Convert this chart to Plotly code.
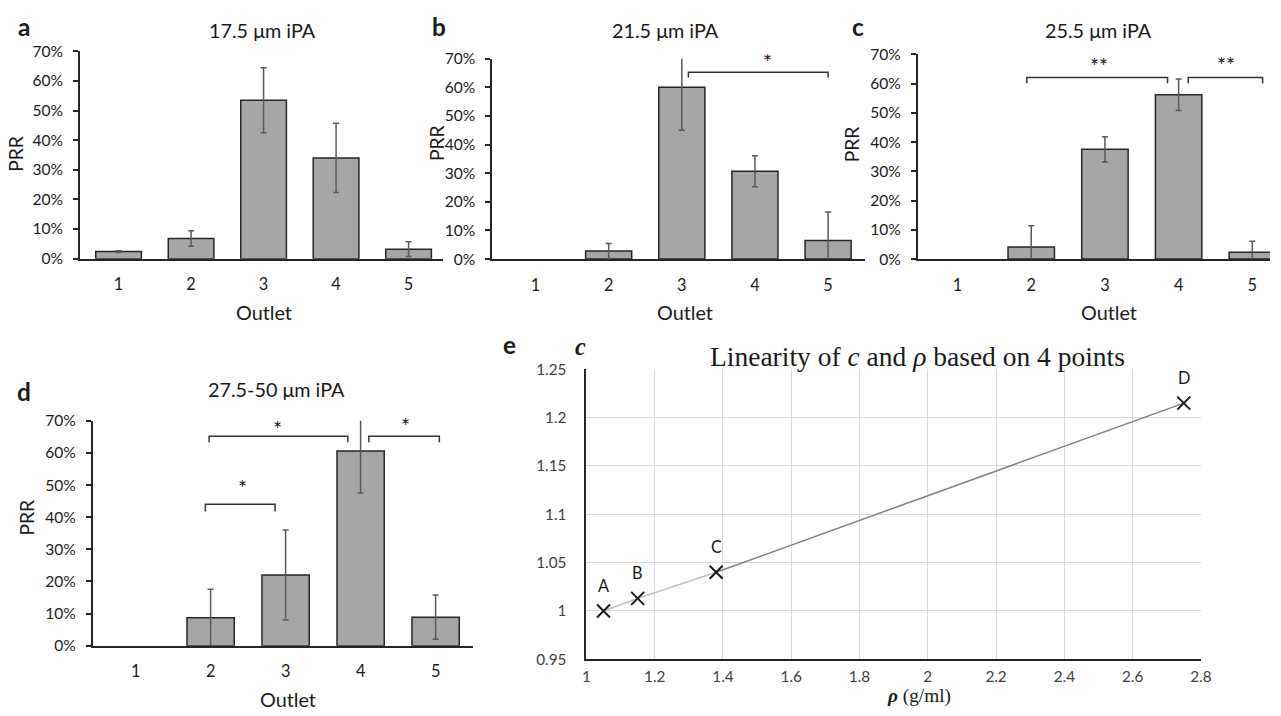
import plotly.graph_objects as go

# ---- data -------------------------------------------------------------
outlets = [1, 2, 3, 4, 5]

prr_a = [2.4, 6.8, 53.5, 34.0, 3.2]
err_a = [0.3, 2.6, 11.0, 11.7, 2.5]

prr_b = [0.0, 2.8, 60.0, 30.7, 6.5]
err_b = [0.0, 2.6, 15.0, 5.4, 9.9]

prr_c = [0.0, 4.1, 37.5, 56.2, 2.3]
err_c = [0.0, 7.3, 4.3, 5.4, 3.8]

prr_d = [0.0, 8.7, 22.0, 60.6, 8.9]
err_d = [0.0, 8.9, 14.0, 13.1, 6.9]

panel_titles = ["17.5 μm iPA", "21.5 μm iPA", "25.5 μm iPA", "27.5-50 μm iPA"]
panel_letters = ["a", "b", "c", "d", "e"]
prr_ticks = [0, 10, 20, 30, 40, 50, 60, 70]

rho = [1.05, 1.15, 1.38, 2.75]
c_vals = [1.0, 1.013, 1.04, 1.215]
point_labels = ["A", "B", "C", "D"]
rho_ticks = [1, 1.2, 1.4, 1.6, 1.8, 2, 2.2, 2.4, 2.6, 2.8]
c_ticks = [0.95, 1.0, 1.05, 1.1, 1.15, 1.2, 1.25]

# significance brackets: (x_left, x_right, y_bar, y_foot, marker, x_text, y_text)
brackets_b = [(3.09, 5.0, 65.3, 63.4, "*", 4.17, 69.0)]
brackets_c = [(1.94, 3.85, 62.1, 60.1, "**", 2.92, 66.0),
              (4.13, 5.14, 62.1, 60.1, "**", 4.64, 66.4)]
brackets_d = [(1.98, 3.83, 65.2, 63.3, "*", 2.89, 67.6),
              (4.11, 5.05, 65.2, 63.3, "*", 4.60, 68.4),
              (1.93, 2.86, 44.0, 41.8, "*", 2.43, 49.0)]

# ---- style ------------------------------------------------------------
SANS = "Lato"
SERIF = "Liberation Serif"
BAR_FILL = "#a6a6a6"
BAR_EDGE = "#262626"
ERR_COL = "#595959"
TXT = "#1a1a1a"

W, H = 1281, 716
# layout positions below are given on a 1281x716 sheet; the page adds an 8px
# body margin around the figure, so sheet positions are mapped into figure space
OFF = 8
KX = (W + 2 * OFF) / W
KY = (H + 2 * OFF) / H
KF = (KX + KY) / 2  # text grows with the sheet


def px_x(x):
    return min(max((x * KX - OFF) / W, 0.0), 1.0)


def px_y(y):
    return min(max(1 - (y * KY - OFF) / H, 0.0), 1.0)


def xdom(l, r):
    return [px_x(l), px_x(r)]


def ydom(bottom, top):
    return [px_y(bottom), px_y(top)]


def fs(size):
    return round(size * KF, 1)


fig = go.Figure()

bar_sets = [(prr_a, err_a), (prr_b, err_b), (prr_c, err_c), (prr_d, err_d)]
axis_ids = ["", "2", "3", "4"]

for (vals, errs), ax in zip(bar_sets, axis_ids):
    # empty outlets are left blank: no bar, no error bar
    vals_drawn = [v if v > 0 else None for v in vals]
    err_drawn = [e if v > 0 else None for v, e in zip(vals, errs)]
    fig.add_trace(go.Bar(
        x=outlets, y=vals_drawn, width=0.63,
        marker=dict(color=BAR_FILL, line=dict(color=BAR_EDGE, width=1.5)),
        error_y=dict(type="data", array=err_drawn, visible=True,
                     color=ERR_COL, thickness=1.5, width=3),
        xaxis="x" + ax, yaxis="y" + ax, showlegend=False,
    ))

ann = []

for brs, ax in [(brackets_b, "2"), (brackets_c, "3"), (brackets_d, "4")]:
    for x0, x1, yb, yf, mark, xt, yt in brs:
        fig.add_trace(go.Scatter(
            x=[x0, x0, x1, x1], y=[yf, yb, yb, yf], mode="lines",
            line=dict(color="#333333", width=1.5),
            xaxis="x" + ax, yaxis="y" + ax, showlegend=False, hoverinfo="skip",
        ))
        ann.append(dict(
            x=xt, y=yt, xref="x" + ax, yref="y" + ax, text=mark, showarrow=False,
            xanchor="center", yanchor="middle",
            font=dict(family=SANS, size=fs(21), color=TXT),
        ))

# panel e: fitted line and points
fig.add_trace(go.Scatter(
    x=rho[:3], y=c_vals[:3], mode="lines",
    line=dict(color="#bdbdbd", width=1.5),
    xaxis="x5", yaxis="y5", showlegend=False,
))
fig.add_trace(go.Scatter(
    x=rho[2:], y=c_vals[2:], mode="lines",
    line=dict(color="#808080", width=1.5),
    xaxis="x5", yaxis="y5", showlegend=False,
))
fig.add_trace(go.Scatter(
    x=rho, y=c_vals, mode="markers",
    marker=dict(symbol="x-thin", size=13, line=dict(color="#1a1a1a", width=2)),
    xaxis="x5", yaxis="y5", showlegend=False,
))

# ---- axes -------------------------------------------------------------
bar_x = dict(
    tickmode="array", tickvals=outlets, ticks="", showgrid=False, zeroline=False,
    showline=True, linecolor="#262626", linewidth=2,
    tickfont=dict(family=SANS, size=fs(16), color=TXT), ticklabelstandoff=10,
)
bar_y = dict(
    range=[0, 70], tickmode="array", tickvals=prr_ticks,
    ticktext=[f"{t}%" for t in prr_ticks],
    ticks="outside", ticklen=5, tickwidth=1.5, tickcolor="#262626",
    showgrid=False, zeroline=False, showline=True, linecolor="#262626", linewidth=2,
    tickfont=dict(family=SANS, size=fs(15.3), color=TXT), ticklabelstandoff=7,
)

# panel c runs off the right edge of the sheet
c_right_px = (W + OFF) / KX
c_right = 5 + (c_right_px - 1255.4) / 73.7

fig.update_layout(
    xaxis=dict(bar_x, domain=xdom(84, 447), range=[0.47, 5.48], anchor="y"),
    yaxis=dict(bar_y, domain=ydom(257.3, 49.3), anchor="x"),
    xaxis2=dict(bar_x, domain=xdom(496, 868), range=[0.41, 5.5], anchor="y2"),
    yaxis2=dict(bar_y, domain=ydom(257.7, 56.7), anchor="x2"),
    xaxis3=dict(bar_x, domain=xdom(921.3, c_right_px), range=[0.463, c_right], anchor="y3"),
    yaxis3=dict(bar_y, domain=ydom(257.7, 52.3), anchor="x3"),
    xaxis4=dict(bar_x, domain=xdom(96.7, 476.7), range=[0.43, 5.5], anchor="y4"),
    yaxis4=dict(bar_y, domain=ydom(645.7, 420), anchor="x4"),
    xaxis5=dict(
        domain=xdom(590, 1204), range=[1, 2.8], anchor="y5",
        tickmode="array", tickvals=rho_ticks, ticktext=[f"{t:g}" for t in rho_ticks],
        showgrid=True, gridcolor="#d9d9d9", gridwidth=1, zeroline=False,
        showline=True, linecolor="#262626", linewidth=2, ticks="",
        tickfont=dict(family=SANS, size=fs(15), color="#404040"), ticklabelstandoff=2,
    ),
    yaxis5=dict(
        domain=ydom(659.3, 368.3), range=[0.95, 1.25], anchor="x5",
        tickmode="array", tickvals=c_ticks, ticktext=[f"{t:g}" for t in c_ticks],
        showgrid=True, gridcolor="#d9d9d9", gridwidth=1, zeroline=False,
        showline=True, linecolor="#262626", linewidth=2, ticks="",
        tickfont=dict(family=SANS, size=fs(15), color="#404040"), ticklabelstandoff=15,
    ),
    width=W, height=H,
    margin=dict(l=0, r=0, t=0, b=0),
    paper_bgcolor="white", plot_bgcolor="white",
)

# ---- text -------------------------------------------------------------


def text(x, y, s, size, family=SANS, bold=False, angle=0, color=TXT):
    ann.append(dict(
        x=px_x(x), y=px_y(y), xref="paper", yref="paper",
        text=f"<b>{s}</b>" if bold else s, showarrow=False,
        xanchor="center", yanchor="middle", textangle=angle,
        font=dict(family=family, size=fs(size), color=color),
    ))


# panel letters
for letter, (px, py) in zip(panel_letters,
                            [(28, 24), (443, 24), (861, 24), (28, 391), (513, 343)]):
    text(px, py, letter, 24, bold=True)

# panel titles
for title, (px, py) in zip(panel_titles,
                           [(266, 28), (669, 28), (1102, 28), (280, 388)]):
    text(px, py, title, 19.5)

# axis titles for bar panels
for px, py in [(268, 311), (688, 311), (1112, 311), (292, 699)]:
    text(px, py, "Outlet", 19.5)
for px, py in [(20, 152), (440, 141), (855, 143), (30, 517)]:
    text(px, py, "PRR", 19, angle=-90)

# panel e titles
text(921, 355, "Linearity of <i>c</i> and <i>ρ</i> based on 4 points", 27, family=SERIF)
text(584, 345, "<i>c</i>", 24, family=SERIF, bold=True)
ann.append(dict(
    x=px_x(922), y=0, xref="paper", yref="paper", yanchor="bottom", xanchor="center",
    text="<b><i>ρ</i></b> (g/ml)", showarrow=False, borderpad=0,
    font=dict(family=SERIF, size=fs(19), color=TXT),
))

# point labels above markers
for x, y, lab in zip(rho, c_vals, point_labels):
    ann.append(dict(
        x=x, y=y, xref="x5", yref="y5", text=lab, showarrow=False,
        yshift=25 * KY, xanchor="center", yanchor="middle",
        font=dict(family=SANS, size=fs(16), color=TXT),
    ))

fig.update_layout(annotations=ann)

fig.write_html("out.html")
